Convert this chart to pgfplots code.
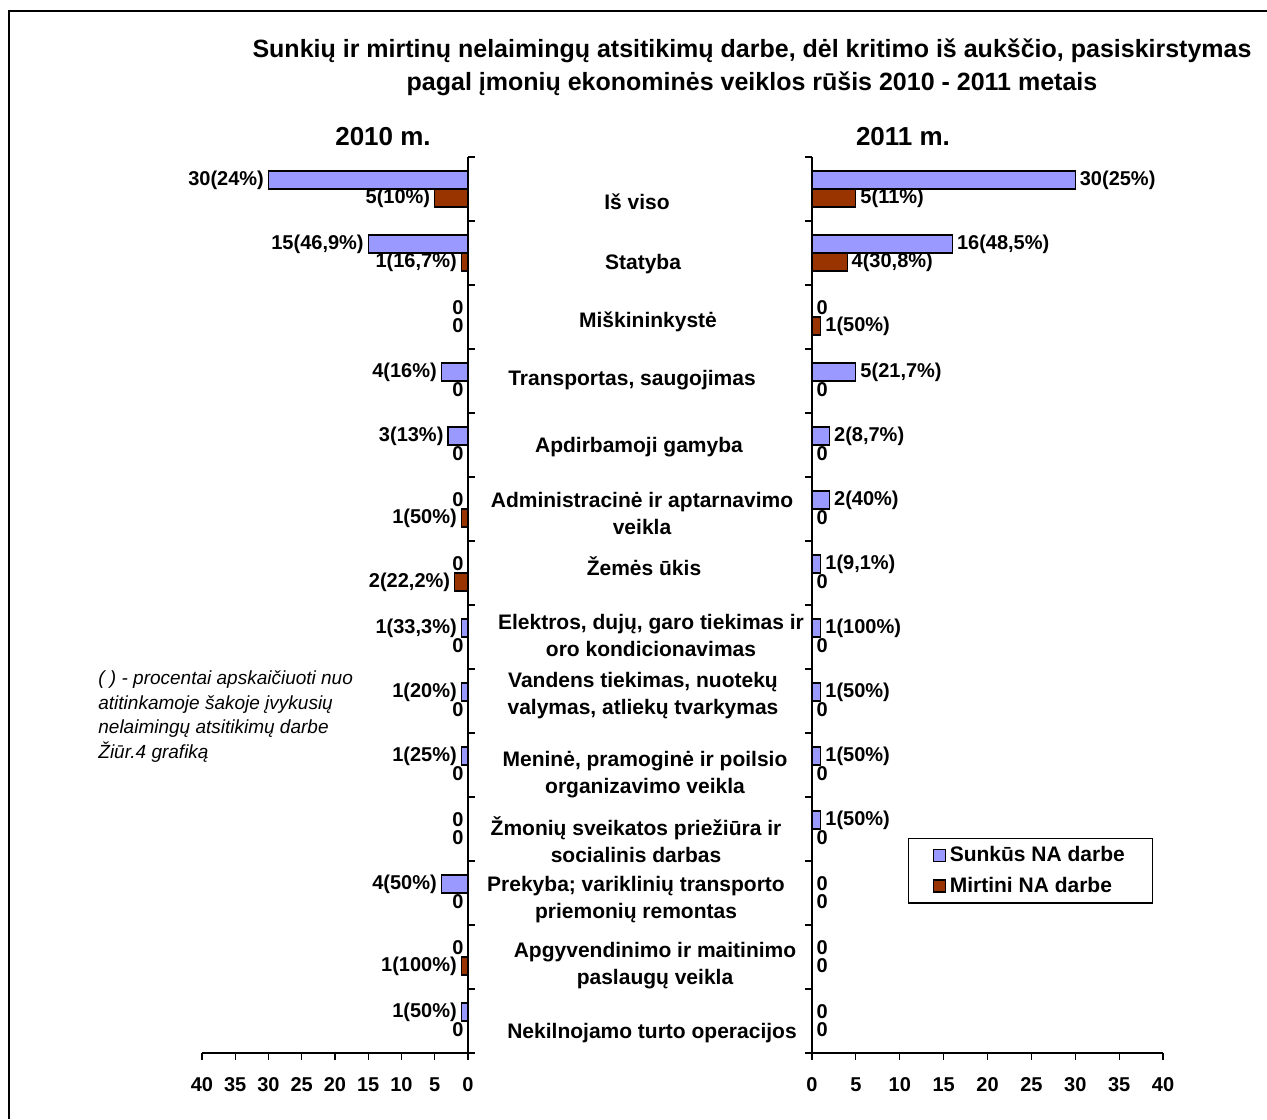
\documentclass[border=0pt]{standalone}
\usepackage{fontspec}
\setmainfont{Liberation Sans}
\usepackage{pgfplots}
\usepackage{pgfplotstable}
\pgfplotsset{compat=1.18}
\definecolor{sunkus}{HTML}{9999FF}
\definecolor{mirtini}{HTML}{993300}

% i = category (0 = Is viso, top), s = sunkus, m = mirtini
\pgfplotstableread{
i s sl m ml
0 30 30(24\%) 5 5(10\%)
1 15 15(46,9\%) 1 1(16,7\%)
2 0 0 0 0
3 4 4(16\%) 0 0
4 3 3(13\%) 0 0
5 0 0 1 1(50\%)
6 0 0 2 2(22,2\%)
7 1 1(33,3\%) 0 0
8 1 1(20\%) 0 0
9 1 1(25\%) 0 0
10 0 0 0 0
11 4 4(50\%) 0 0
12 0 0 1 1(100\%)
13 1 1(50\%) 0 0
}\metaidesimt

\pgfplotstableread{
i s sl m ml
0 30 30(25\%) 5 5(11\%)
1 16 16(48,5\%) 4 4(30,8\%)
2 0 0 1 1(50\%)
3 5 5(21,7\%) 0 0
4 2 2(8,7\%) 0 0
5 2 2(40\%) 0 0
6 1 1(9,1\%) 0 0
7 1 1(100\%) 0 0
8 1 1(50\%) 0 0
9 1 1(50\%) 0 0
10 1 1(50\%) 0 0
11 0 0 0 0
12 0 0 0 0
13 0 0 0 0
}\metaivienuolika

\pgfplotsset{
  halfbars/.style={
    xbar, bar width=9pt, scale only axis, height=448pt,
    ymin=-0.5, ymax=13.5, y dir=reverse,
    ytick={-0.5,0.5,...,13.5}, yticklabel=\empty,
    xmin=0, xmax=40, xtick={0,5,...,40},
    axis x line*=bottom,
    tick align=outside, major tick length=3.5pt,
    tick style={black, line width=0.6pt},
    axis line style={black, line width=0.6pt},
    ticklabel style={font=\bfseries\fontsize{10}{12}\selectfont},
    xticklabel style={yshift=-5pt, text height=7pt, text depth=0pt},
    /pgf/number format/assume math mode=true,
    point meta=explicit symbolic,
    nodes near coords,
    every node near coord/.append style={font=\bfseries\fontsize{10}{12}\selectfont, inner sep=2pt, black},
    clip=false,
  },
  sq/.style={legend image code/.code={\draw[##1, line width=0.6pt] (0pt,-3pt) rectangle (6pt,3pt);}},
}

\newcommand\cat{\bfseries\fontsize{10.5}{13.5}\selectfont}

\begin{document}
\begin{tikzpicture}
\useasboundingbox (0pt,0pt) rectangle (633.5pt,-559.5pt);
\draw[line width=0.75pt] (4.5pt,-559.5pt) -- (4.5pt,-5.5pt) -- (633.5pt,-5.5pt);

\node[align=center, font=\bfseries\fontsize{12.5}{16.5}\selectfont] at (376pt,-33.75pt)
  {Sunkių ir mirtinų nelaimingų atsitikimų darbe, dėl kritimo iš aukščio, pasiskirstymas\\
   pagal įmonių ekonominės veiklos rūšis 2010 - 2011 metais};
\node[font=\bfseries\fontsize{13}{15}\selectfont] at (191.5pt,-68.5pt) {2010 m.};
\node[font=\bfseries\fontsize{13}{15}\selectfont] at (451.5pt,-68.5pt) {2011 m.};

% 2010, drawn to the left
\begin{axis}[halfbars, width=133pt, at={(101pt,-526.5pt)}, anchor=south west,
  x dir=reverse, axis y line*=right, nodes near coords align={anchor=east}]
\addplot[fill=sunkus, draw=black, line width=0.6pt, bar shift=4.5pt] table[x=s, y=i, meta=sl] {\metaidesimt};
\addplot[fill=mirtini, draw=black, line width=0.6pt, bar shift=-4.5pt] table[x=m, y=i, meta=ml] {\metaidesimt};
\end{axis}

% 2011, drawn to the right
\begin{axis}[halfbars, width=175.5pt, at={(406pt,-526.5pt)}, anchor=south west,
  axis y line*=left, nodes near coords align={anchor=west},
  legend style={at={(0.2735,0.24)}, anchor=north west, draw=black, line width=0.6pt,
    font=\bfseries\fontsize{10.5}{12.5}\selectfont, inner xsep=12pt, inner ysep=2pt,
    row sep=2pt},
  legend cell align=left]
\addplot[fill=sunkus, draw=black, line width=0.6pt, bar shift=4.5pt, sq] table[x=s, y=i, meta=sl] {\metaivienuolika};
\addplot[fill=mirtini, draw=black, line width=0.6pt, bar shift=-4.5pt, sq] table[x=m, y=i, meta=ml] {\metaivienuolika};
\legend{Sunkūs NA darbe, Mirtini NA darbe}
\end{axis}

% category names between the two halves
\node[font=\cat, align=center] at (318.5pt,-101pt) {Iš viso};
\node[font=\cat, align=center] at (321.5pt,-132pt) {Statyba};
\node[font=\cat, align=center] at (324pt,-161pt) {Miškininkystė};
\node[font=\cat, align=center] at (316pt,-190pt) {Transportas, saugojimas};
\node[font=\cat, align=center] at (319.5pt,-223.5pt) {Apdirbamoji gamyba};
\node[font=\cat, align=center] at (321pt,-256.5pt) {Administracinė ir aptarnavimo\\veikla};
\node[font=\cat, align=center] at (322pt,-283pt) {Žemės ūkis};
\node[font=\cat, align=center] at (325.5pt,-317.5pt) {Elektros, dujų, garo tiekimas ir\\oro kondicionavimas};
\node[font=\cat, align=center] at (321.5pt,-348pt) {Vandens tiekimas, nuotekų\\valymas, atliekų tvarkymas};
\node[font=\cat, align=center] at (322.5pt,-387.5pt) {Meninė, pramoginė ir poilsio\\organizavimo veikla};
\node[font=\cat, align=center] at (318pt,-420pt) {Žmonių sveikatos priežiūra ir\\socialinis darbas};
\node[font=\cat, align=center] at (318pt,-450pt) {Prekyba; variklinių transporto\\priemonių remontas};
\node[font=\cat, align=center] at (327.5pt,-483pt) {Apgyvendinimo ir maitinimo\\paslaugų veikla};
\node[font=\cat, align=center] at (326pt,-516.5pt) {Nekilnojamo turto operacijos};

\node[anchor=base west, align=left, inner sep=0pt, font=\itshape\fontsize{9.5}{12.25}\selectfont] at (49pt,-379pt)
  {( ) - procentai apskaičiuoti nuo\\atitinkamoje šakoje įvykusių\\nelaimingų atsitikimų darbe\\Žiūr.4 grafiką};
\end{tikzpicture}
\end{document}
